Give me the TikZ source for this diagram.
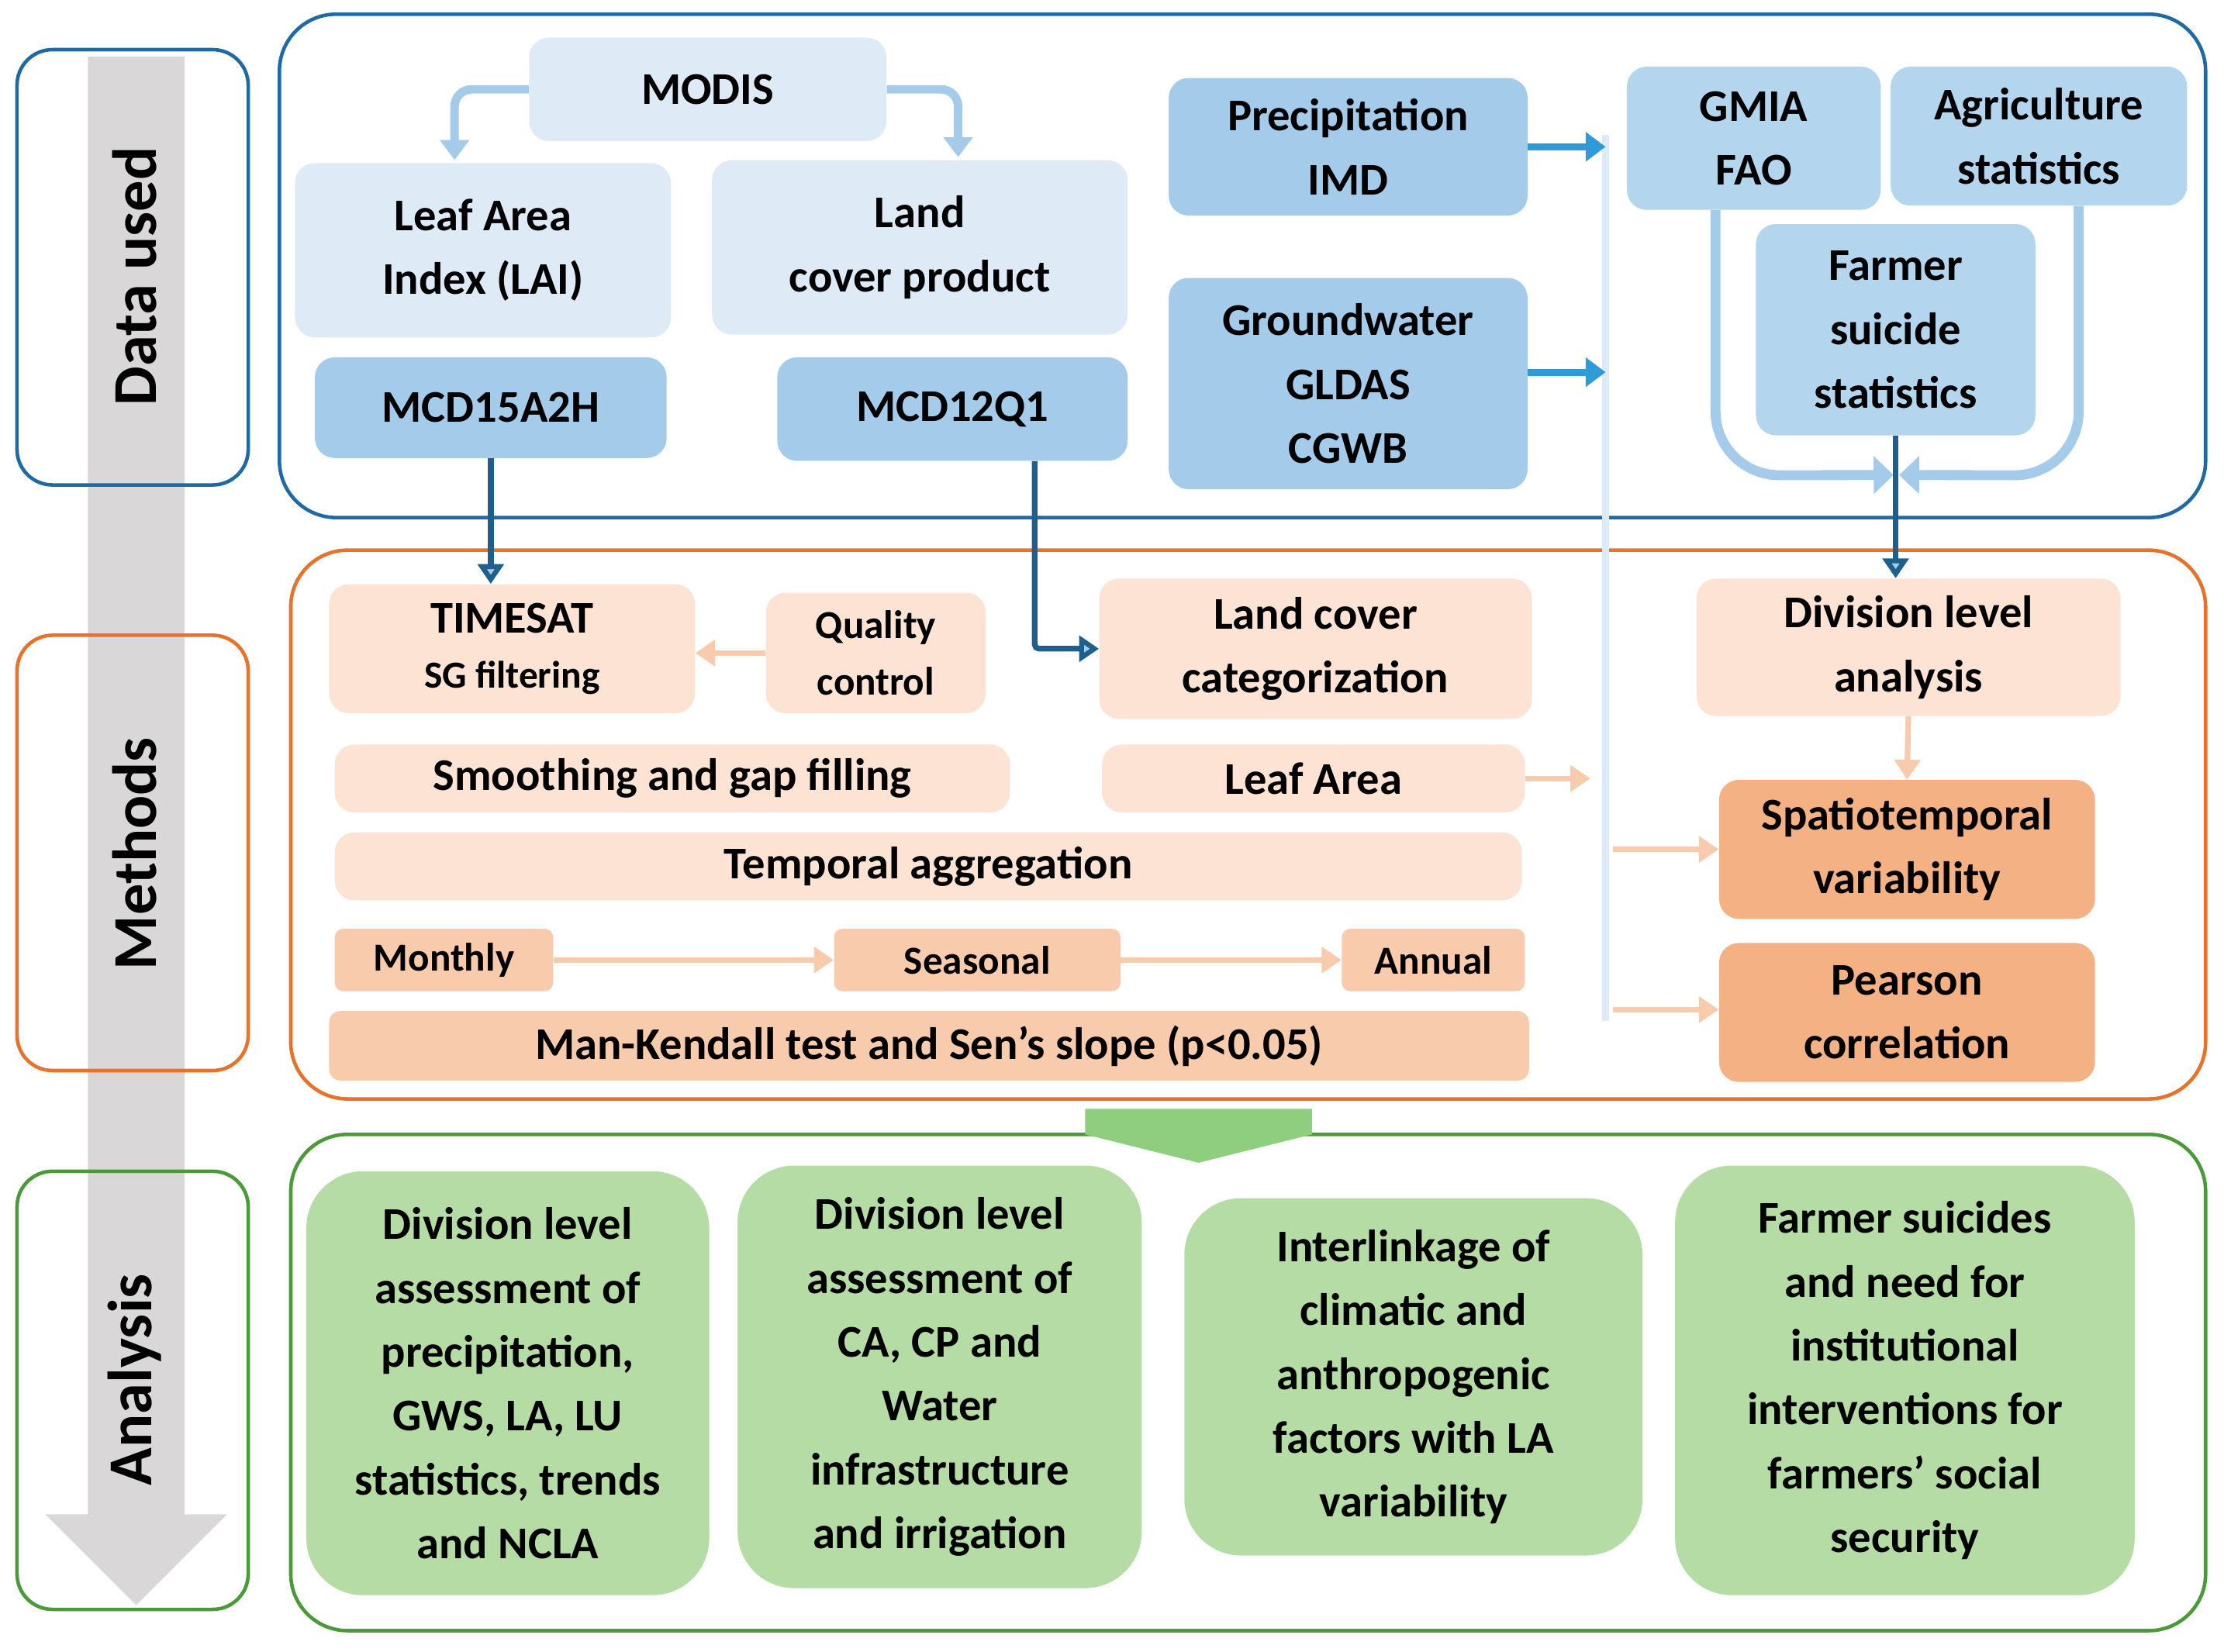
\documentclass[tikz,border=0pt]{standalone}
\usepackage{fontspec}
\setmainfont{Carlito}
\usetikzlibrary{arrows.meta,calc}
\definecolor{lb}{HTML}{DEEBF7}
\definecolor{mb}{HTML}{A4CBEA}
\definecolor{sb}{HTML}{B4D5EE}
\definecolor{ab}{HTML}{2E9BD6}
\definecolor{db}{HTML}{1F5F8B}
\definecolor{lo}{HTML}{FDE3D3}
\definecolor{mo}{HTML}{F8CBAD}
\definecolor{do}{HTML}{F4B183}
\definecolor{gr}{HTML}{B5DCA5}
\definecolor{gt}{HTML}{8FCE7F}
\definecolor{pb}{HTML}{1F6AA5}
\definecolor{po}{HTML}{E8722A}
\definecolor{pg}{HTML}{4A9A3A}
\definecolor{gy}{HTML}{D9D7D7}
\begin{document}
\begin{tikzpicture}[x=1pt,y=-1pt,
  box/.style={rounded corners=14pt,align=center,inner sep=0pt,font=\fontsize{32}{45}\selectfont\bfseries},
  sbox/.style={box,font=\fontsize{28}{40}\selectfont\bfseries},
  panel/.style={rounded corners=40pt,line width=2.5pt},
  lab/.style={rounded corners=25pt,line width=2.5pt},
  blu/.style={line width=6pt,draw=mb,-{Triangle[length=14pt,width=20pt]}},
  abl/.style={line width=5pt,draw=ab,-{Triangle[length=14pt,width=20pt]}},
  ora/.style={line width=4pt,draw=mo,-{Triangle[length=14pt,width=18pt]}},
  dbl/.style={line width=4pt,draw=db,-{Triangle[length=14pt,width=18pt,fill=mb]}},
]
\useasboundingbox (0,0) rectangle (1568,1165);
% gray arrow
\fill[gy] (62,40) -- (130,40) -- (130,1068) -- (160,1068) -- (96,1132) -- (32,1068) -- (62,1068) -- cycle;
% side labels
\draw[lab,draw=pb] (12,35) rectangle (175,342);
\draw[lab,draw=po] (12,448) rectangle (175,755);
\draw[lab,draw=pg] (12,826) rectangle (175,1135);
\node[rotate=90,font=\fontsize{44}{48}\selectfont\bfseries] (t1) at (95,195) {Data used};
\node[rotate=90,font=\fontsize{44}{48}\selectfont\bfseries] (t2) at (95,602) {Methods};
\node[rotate=90,font=\fontsize{44}{48}\selectfont\bfseries] (t3) at (95,973) {Analysis};
% panels
\draw[panel,draw=pb] (197,10) rectangle (1555,365);
\draw[panel,draw=po] (205,388) rectangle (1555,775);
\draw[panel,draw=pg] (205,800) rectangle (1555,1150);
% data nodes
\node[box,fill=lb,minimum width=252pt,minimum height=73pt] (modis) at (499,63) {MODIS};
\node[box,fill=lb,minimum width=265pt,minimum height=123pt] (lai) at (340.5,176.5) {Leaf Area\\Index (LAI)};
\node[box,fill=lb,minimum width=293pt,minimum height=123pt] (lcp) at (648.5,174.5) {Land\\cover product};
\node[box,fill=mb,minimum width=248pt,minimum height=71pt] (m15) at (346,287.5) {MCD15A2H};
\node[box,fill=mb,minimum width=247pt,minimum height=73pt] (m12) at (671.5,288.5) {MCD12Q1};
\node[box,fill=mb,minimum width=253pt,minimum height=97pt] (prc) at (950.5,103.5) {Precipitation\\IMD};
\node[box,fill=mb,minimum width=253pt,minimum height=149pt] (gw) at (950.5,270.5) {Groundwater\\GLDAS\\CGWB};
\node[box,fill=sb,minimum width=179pt,minimum height=101pt] (gmia) at (1236.5,97.5) {GMIA\\FAO};
\node[box,fill=sb,minimum width=209pt,minimum height=98pt] (agr) at (1437.5,96) {Agriculture\\statistics};
\node[box,fill=sb,minimum width=197pt,minimum height=149pt] (fs) at (1336.5,232.5) {Farmer\\suicide\\statistics};
% methods nodes
\node[box,fill=lo,minimum width=258pt,minimum height=91pt] (ts) at (361,457.5) {TIMESAT\\[-6pt]{\fontsize{27}{36}\selectfont SG filtering}};
\node[sbox,fill=lo,minimum width=155pt,minimum height=85pt] (qc) at (617.5,460.5) {Quality\\control};
\node[box,fill=lo,minimum width=305pt,minimum height=99pt] (lcc) at (927.5,457.5) {Land cover\\categorization};
\node[box,fill=lo,minimum width=476pt,minimum height=48pt] (sm) at (474,549) {Smoothing and gap filling};
\node[box,fill=lo,minimum width=298pt,minimum height=48pt] (la) at (926,549) {Leaf Area};
\node[box,fill=lo,minimum width=837pt,minimum height=48pt] (ta) at (654.5,611) {Temporal aggregation};
\node[sbox,fill=mo,minimum width=154pt,minimum height=44pt,rounded corners=6pt] (mo) at (313,677) {Monthly};
\node[sbox,fill=mo,minimum width=202pt,minimum height=44pt,rounded corners=6pt] (se) at (689,677) {Seasonal};
\node[sbox,fill=mo,minimum width=129pt,minimum height=44pt,rounded corners=6pt] (an) at (1010.5,677) {Annual};
\node[box,fill=mo,minimum width=846pt,minimum height=49pt,rounded corners=8pt] (mk) at (655,737.5) {Man-Kendall test and Sen’s slope (p<0.05)};
\node[box,fill=lo,minimum width=299pt,minimum height=97pt] (dla) at (1345.5,456.5) {Division level\\analysis};
\node[box,fill=do,minimum width=265pt,minimum height=98pt] (sv) at (1344.5,599) {Spatiotemporal\\variability};
\node[box,fill=do,minimum width=265pt,minimum height=98pt] (pc) at (1344.5,714) {Pearson\\correlation};
% green
\fill[gt] (765,782) -- (925,782) -- (925,800) -- (845,820) -- (765,800) -- cycle;
\node[box,fill=gr,rounded corners=40pt,minimum width=284pt,minimum height=299pt] (g1) at (358,975.5) {Division level\\assessment of\\precipitation,\\GWS, LA, LU\\statistics, trends\\and NCLA};
\node[box,fill=gr,rounded corners=40pt,minimum width=285pt,minimum height=298pt] (g2) at (662.5,971) {Division level\\assessment of\\CA, CP and\\Water\\infrastructure\\and irrigation};
\node[box,fill=gr,rounded corners=40pt,minimum width=323pt,minimum height=252pt] (g3) at (996.5,971) {Interlinkage of\\climatic and\\anthropogenic\\factors with LA\\variability};
\node[box,fill=gr,rounded corners=40pt,minimum width=324pt,minimum height=303pt] (g4) at (1343,973.5) {Farmer suicides\\and need for\\institutional\\interventions for\\farmers’ social\\security};
% connectors
\draw[blu,rounded corners=12pt] (modis.west) -| ($(lai.north)+(-20,-2)$);
\draw[blu,rounded corners=12pt] (modis.east) -| ($(lcp.north)+(27,-2)$);
\coordinate (vt) at (1132,95);
\coordinate (vb) at (1132,720);
\draw[line width=5pt,draw=lb] (vt) -- (vb);
\draw[abl] (prc.east) -- (prc.east -| vt);
\draw[abl] ($(gw.east)+(0,-8)$) -- ($(gw.east -| vt)+(0,-8)$);
\draw[ora] ($(sv.west -| vt)+(5,0)$) -- (sv.west);
\draw[ora] ($(pc.west -| vt)+(5,-2)$) -- ($(pc.west)+(0,-2)$);
\draw[ora] (la.east) -- ++(46,0);
\draw[ora] (qc.west) -- (ts.east |- qc.west);
\draw[ora] (mo.east) -- (se.west);
\draw[ora] (se.east) -- (an.west);
\draw[ora] (dla.south) -- (sv.north);
\coordinate (mj) at (1337,335);
\draw[line width=7pt,draw=mb,rounded corners=45pt,-{Triangle[length=14pt,width=26pt]}] ($(gmia.south)+(-27,0)$) -- ++(0,187) -- ($(mj)+(-2,0)$);
\draw[line width=7pt,draw=mb,rounded corners=45pt,-{Triangle[length=14pt,width=26pt]}] ($(agr.south)+(28,0)$) -- ++(0,190) -- ($(mj)+(2,0)$);
\draw[dbl] (fs.south) -- (fs.south |- dla.north);
\draw[dbl] (m15.south) -- ($(ts.north -| m15.south)$);
\draw[dbl,rounded corners=3pt] ($(m12.south)+(58,0)$) |- (lcc.west);
\end{tikzpicture}
\end{document}
